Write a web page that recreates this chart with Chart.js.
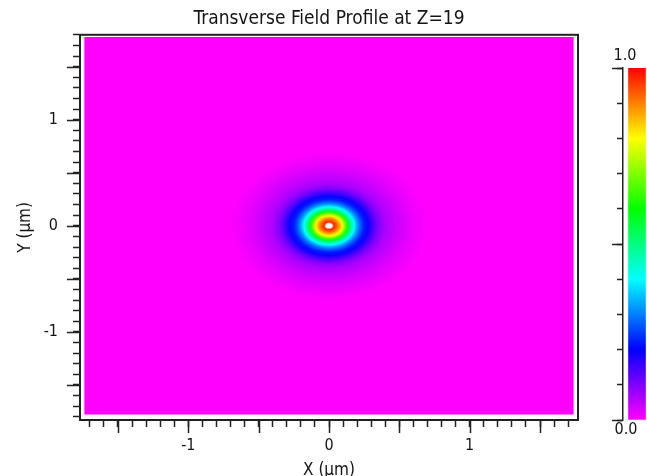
<!DOCTYPE html>
<html>
<head>
<meta charset="utf-8">
<title>Transverse Field Profile</title>
<script src="https://cdn.jsdelivr.net/npm/chart.js@4.4.0/dist/chart.umd.min.js"></script>
<style>
  html, body { margin: 0; padding: 0; background: #fff; overflow: hidden; }
  #wrap { position: relative; width: 647px; height: 476px; }
  #fieldBox { position: absolute; left: 0; top: 0; width: 647px; height: 476px; }
  #barBox { position: absolute; left: 590px; top: 40px; width: 61px; height: 400px; }
</style>
</head>
<body>
<div id="wrap">
  <div id="fieldBox"><canvas id="field"></canvas></div>
  <div id="barBox"><canvas id="bar"></canvas></div>
</div>
<script>
// radial profile of the normalised field around the beam centre (Z = 19)
var radius = [0, 0.02, 0.035, 0.05, 0.065, 0.08, 0.095, 0.11, 0.125, 0.14, 0.16, 0.18, 0.2, 0.22, 0.25, 0.28, 0.31, 0.35, 0.4, 0.5, 0.6, 0.7];
var level  = [1.0, 1.0, 0.97, 0.94, 0.9, 0.85, 0.79, 0.72, 0.64, 0.56, 0.47, 0.4, 0.33, 0.28, 0.22, 0.19, 0.15, 0.1, 0.065, 0.035, 0.015, 0.0];
var beamCentre = [0, 0];          // x, y in um
var windowX = [-1.74, 1.74];      // computed window, um
var windowY = [-1.78, 1.78];

var xRange = [-1.77, 1.77];
var yRange = [-1.83, 1.80];
var axisLabels = [-1, 0, 1];
var longTicks = [-1.5, -1, -0.5, 0, 0.5, 1, 1.5];

// colour scale, 0 .. 1
var scaleStops = [0, 0.2, 0.4, 0.6, 0.8, 1.0];
var scaleColours = [[255, 0, 255], [0, 0, 255], [0, 255, 255], [0, 255, 0], [255, 255, 0], [255, 0, 0]];
var barTicks = [0, 0.5, 1.0];
var barLabels = ['0.0', '1.0'];

var FONT = "'DejaVu Sans Condensed', 'DejaVu Sans', sans-serif";
var INK = '#151515';
var LINE = '#222';

function colourOf(v) {
  if (v >= 1) return 'rgb(255,255,255)';
  if (v <= 0) v = 0;
  for (var i = 1; i < scaleStops.length; i++) {
    if (v <= scaleStops[i]) {
      var t = (v - scaleStops[i - 1]) / (scaleStops[i] - scaleStops[i - 1]);
      var a = scaleColours[i - 1], b = scaleColours[i];
      return 'rgb(' + Math.round(a[0] + (b[0] - a[0]) * t) + ',' +
        Math.round(a[1] + (b[1] - a[1]) * t) + ',' +
        Math.round(a[2] + (b[2] - a[2]) * t) + ')';
    }
  }
  return 'rgb(255,0,0)';
}

function tenths(lo, hi) {
  var out = [];
  for (var k = Math.ceil(lo * 10); k <= Math.floor(hi * 10); k++) out.push({ value: k / 10 });
  return out;
}

function tickLabel(v) {
  return axisLabels.indexOf(v) >= 0 ? String(v) : '';
}

// paints the field map under the frame
var fieldPlugin = {
  id: 'fieldMap',
  beforeDatasetsDraw: function (chart) {
    var ctx = chart.ctx, xs = chart.scales.x, ys = chart.scales.y;
    var x0 = xs.getPixelForValue(windowX[0]), x1 = xs.getPixelForValue(windowX[1]);
    var y0 = ys.getPixelForValue(windowY[1]), y1 = ys.getPixelForValue(windowY[0]);
    ctx.save();
    ctx.beginPath();
    ctx.rect(x0, y0, x1 - x0, y1 - y0);
    ctx.clip();
    ctx.fillStyle = colourOf(level[level.length - 1]);
    ctx.fillRect(x0, y0, x1 - x0, y1 - y0);

    var cx = xs.getPixelForValue(beamCentre[0]), cy = ys.getPixelForValue(beamCentre[1]);
    var kx = xs.getPixelForValue(1) - xs.getPixelForValue(0);
    var ky = ys.getPixelForValue(0) - ys.getPixelForValue(1);
    var rMax = radius[radius.length - 1];
    ctx.translate(cx, cy);
    ctx.scale(1, ky / kx);
    var g = ctx.createRadialGradient(0, 0, 0, 0, 0, rMax * kx);
    for (var i = 0; i < radius.length; i++) g.addColorStop(radius[i] / rMax, colourOf(level[i]));
    ctx.fillStyle = g;
    ctx.beginPath();
    ctx.arc(0, 0, rMax * kx, 0, Math.PI * 2);
    ctx.fill();
    ctx.restore();
  },
  afterDraw: function (chart) {
    var ctx = chart.ctx, xs = chart.scales.x, ys = chart.scales.y, a = chart.chartArea;
    ctx.save();
    ctx.strokeStyle = LINE;
    ctx.lineWidth = 1.5;
    ctx.beginPath();
    longTicks.forEach(function (v) {
      var px = Math.round(xs.getPixelForValue(v)) + 0.5;
      ctx.moveTo(px, a.bottom);
      ctx.lineTo(px, a.bottom + 13);
      var py = Math.round(ys.getPixelForValue(v)) + 0.5;
      ctx.moveTo(a.left - 13, py);
      ctx.lineTo(a.left, py);
    });
    ctx.stroke();
    ctx.lineWidth = 2;
    ctx.strokeRect(a.left, a.top, a.right - a.left, a.bottom - a.top);
    ctx.restore();
  }
};

new Chart(document.getElementById('field'), {
  type: 'scatter',
  data: { datasets: [{ data: [], pointRadius: 0 }] },
  plugins: [fieldPlugin],
  options: {
    responsive: true,
    maintainAspectRatio: false,
    animation: false,
    layout: { padding: { right: 69 } },
    plugins: {
      legend: { display: false },
      tooltip: { enabled: false },
      title: {
        display: true,
        fullSize: false,
        text: 'Transverse Field Profile at Z=19',
        color: INK,
        font: { family: FONT, size: 19, weight: 'normal' },
        padding: { top: 8, bottom: 4 }
      }
    },
    scales: {
      x: {
        type: 'linear', min: xRange[0], max: xRange[1],
        afterBuildTicks: function (s) { s.ticks = tenths(xRange[0], xRange[1]); },
        afterFit: function (s) { s.height = 56; },
        ticks: { autoSkip: false, maxRotation: 0, padding: 9, color: INK, font: { family: FONT, size: 16 }, callback: tickLabel },
        grid: { drawOnChartArea: false, tickLength: 7, tickColor: LINE, tickWidth: 1.5 },
        border: { color: LINE, width: 2 },
        title: { display: true, text: 'X (µm)', color: INK, font: { family: FONT, size: 17 }, padding: { top: 0, bottom: -5 } }
      },
      y: {
        type: 'linear', min: yRange[0], max: yRange[1],
        afterBuildTicks: function (s) { s.ticks = tenths(yRange[0], yRange[1]); },
        afterFit: function (s) { s.width = 80; },
        ticks: { autoSkip: false, padding: 15, color: INK, font: { family: FONT, size: 16 }, callback: tickLabel },
        grid: { drawOnChartArea: false, tickLength: 7, tickColor: LINE, tickWidth: 1.5 },
        border: { color: LINE, width: 2 },
        title: { display: true, text: 'Y (µm)', color: INK, font: { family: FONT, size: 17 }, padding: { top: 15, bottom: 0 } }
      }
    }
  }
});

// colour scale bar with its own axis
var barPlugin = {
  id: 'barLabels',
  afterDraw: function (chart) {
    var ctx = chart.ctx, ys = chart.scales.y, a = chart.chartArea;
    ctx.save();
    ctx.strokeStyle = LINE;
    ctx.lineWidth = 1.5;
    ctx.beginPath();
    barTicks.forEach(function (v) {
      var py = Math.round(ys.getPixelForValue(v)) + 0.5;
      ctx.moveTo(a.left - 11, py);
      ctx.lineTo(a.left, py);
    });
    ctx.stroke();
    ctx.fillStyle = INK;
    ctx.font = '16px ' + FONT;
    ctx.textAlign = 'center';
    ctx.textBaseline = 'middle';
    ctx.fillText(barLabels[1], a.left + 2, ys.getPixelForValue(1) - 12);
    ctx.fillText(barLabels[0], a.left + 3, ys.getPixelForValue(0) + 10);
    ctx.restore();
  }
};

new Chart(document.getElementById('bar'), {
  type: 'bar',
  data: {
    labels: [''],
    datasets: [{
      data: [1.0],
      barThickness: 17,
      borderWidth: 0,
      backgroundColor: function (c) {
        var chart = c.chart, ys = chart.scales.y;
        if (!chart.chartArea) return 'rgb(255,0,255)';
        var g = chart.ctx.createLinearGradient(0, ys.getPixelForValue(0), 0, ys.getPixelForValue(1));
        scaleStops.forEach(function (s) { g.addColorStop(s, colourOf(Math.min(s, 0.999))); });
        return g;
      }
    }]
  },
  plugins: [barPlugin],
  options: {
    responsive: true,
    maintainAspectRatio: false,
    animation: false,
    layout: { padding: { top: 28, bottom: 20 } },
    plugins: { legend: { display: false }, tooltip: { enabled: false } },
    scales: {
      x: { display: false },
      y: {
        min: 0, max: 1,
        afterBuildTicks: function (s) { s.ticks = tenths(0, 1); },
        afterFit: function (s) { s.width = 33; },
        ticks: { display: false },
        grid: { drawOnChartArea: false, tickLength: 6, tickColor: LINE, tickWidth: 1.5 },
        border: { color: LINE, width: 1.5 }
      }
    }
  }
});
</script>
</body>
</html>
